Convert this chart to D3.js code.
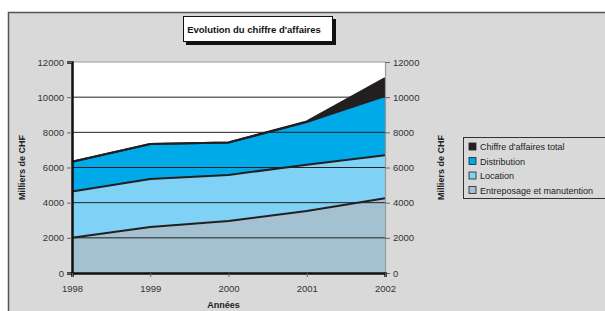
<!DOCTYPE html>
<html>
<head>
<meta charset="utf-8">
<script src="https://cdn.jsdelivr.net/npm/d3@7"></script>
<style>
body { margin: 0; background: #fff; }
text { font-family: "Liberation Sans", Arial, sans-serif; }
</style>
</head>
<body>
<script>
var years = ["1998", "1999", "2000", "2001", "2002"];
// cumulative tops (milliers de CHF)
var entreposage = [2000, 2620, 2960, 3520, 4250];
var locationTop = [4640, 5340, 5580, 6150, 6700];
var distribution = [6330, 7340, 7420, 8580, 10060];
var total = [6330, 7340, 7420, 8620, 11080];
var yTicks = [0, 2000, 4000, 6000, 8000, 10000, 12000];

var series = [
    { name: "Chiffre d'affaires total", values: total, color: "#231f20" },
    { name: "Distribution", values: distribution, color: "#00a9e8" },
    { name: "Location", values: locationTop, color: "#7fd2f5" },
    { name: "Entreposage et manutention", values: entreposage, color: "#a3c1d1" }
];

var svg = d3.select("body").append("svg")
    .attr("width", 605)
    .attr("height", 311);

// outer chart frame
svg.append("rect")
    .attr("x", 8.5).attr("y", 12.5)
    .attr("width", 620).attr("height", 320)
    .attr("fill", "#d9d9d9")
    .attr("stroke", "#555").attr("stroke-width", 1.5);

var pLeft = 72, pRight = 385, pTop = 62, pBottom = 273;

var x = d3.scalePoint().domain(years).range([pLeft, pRight]);
var y = d3.scaleLinear().domain([0, 12000]).range([pBottom, pTop]);

svg.append("rect")
    .attr("x", pLeft).attr("y", pTop)
    .attr("width", pRight - pLeft).attr("height", pBottom - pTop)
    .attr("fill", "#fff");

var area = d3.area()
    .x(function (d, i) { return x(years[i]); })
    .y0(pBottom)
    .y1(function (d) { return y(d); });

var line = d3.line()
    .x(function (d, i) { return x(years[i]); })
    .y(function (d) { return y(d); });

svg.append("g").selectAll("path")
    .data(series)
    .enter()
    .append("path")
    .attr("d", function (d) { return area(d.values); })
    .attr("fill", function (d) { return d.color; });

// gridlines on top of areas
svg.append("g").selectAll("line")
    .data(yTicks.slice(1, -1))
    .enter()
    .append("line")
    .attr("x1", pLeft).attr("x2", pRight)
    .attr("y1", function (d) { return y(d); })
    .attr("y2", function (d) { return y(d); })
    .attr("stroke", "#222").attr("stroke-width", 1);

svg.append("g").selectAll("path")
    .data(series)
    .enter()
    .append("path")
    .attr("d", function (d) { return line(d.values); })
    .attr("fill", "none")
    .attr("stroke", "#231f20")
    .attr("stroke-width", 2);

// top border (gray)
svg.append("line").attr("x1", pLeft).attr("x2", pRight).attr("y1", pTop).attr("y2", pTop)
    .attr("stroke", "#999").attr("stroke-width", 1);

var leftAxis = svg.append("g")
    .attr("transform", "translate(" + pLeft + ",0)")
    .call(d3.axisLeft(y).tickValues(yTicks).tickSize(5).tickPadding(3).tickFormat(d3.format("d")));
var rightAxis = svg.append("g")
    .attr("transform", "translate(" + pRight + ",0)")
    .call(d3.axisRight(y).tickValues(yTicks).tickSize(5).tickPadding(3).tickFormat(d3.format("d")));
var xAxis = svg.append("g")
    .attr("transform", "translate(0," + pBottom + ")")
    .call(d3.axisBottom(x).tickSize(4).tickPadding(8));

leftAxis.select(".domain").attr("stroke", "#111").attr("stroke-width", 2.5);
rightAxis.select(".domain").attr("stroke", "#999").attr("stroke-width", 1.2);
xAxis.select(".domain").attr("stroke", "#111").attr("stroke-width", 2.5);
svg.selectAll(".tick line").attr("stroke", "#666");
svg.selectAll(".tick text")
    .attr("fill", "#333")
    .style("font-size", "9.5px")
    .style("font-family", "Liberation Sans, Arial, sans-serif");

// axis titles
svg.append("text")
    .attr("transform", "translate(25," + ((pTop + pBottom) / 2) + ") rotate(-90)")
    .attr("text-anchor", "middle")
    .style("font-size", "9px").style("font-weight", "bold")
    .attr("fill", "#222")
    .text("Milliers de CHF");
svg.append("text")
    .attr("transform", "translate(444," + ((pTop + pBottom) / 2) + ") rotate(-90)")
    .attr("text-anchor", "middle")
    .style("font-size", "9px").style("font-weight", "bold")
    .attr("fill", "#222")
    .text("Milliers de CHF");
svg.append("text")
    .attr("x", (pLeft + pRight) / 2 - 5).attr("y", 308)
    .attr("text-anchor", "middle")
    .style("font-size", "9px").style("font-weight", "bold")
    .attr("fill", "#222")
    .text("Années");

// title box with shadow
svg.append("rect").attr("x", 186).attr("y", 19).attr("width", 150).attr("height", 26).attr("fill", "#111");
svg.append("rect").attr("x", 183.5).attr("y", 16.5).attr("width", 149).attr("height", 25)
    .attr("fill", "#fff").attr("stroke", "#111").attr("stroke-width", 1);
svg.append("text")
    .attr("x", 254).attr("y", 33)
    .attr("text-anchor", "middle")
    .style("font-size", "9.5px").style("font-weight", "bold")
    .attr("fill", "#111")
    .text("Evolution du chiffre d'affaires");

// legend
var legend = svg.append("g").attr("transform", "translate(463,137)");
legend.append("rect")
    .attr("x", 0.5).attr("y", 0.5).attr("width", 142).attr("height", 61)
    .attr("fill", "#d9d9d9").attr("stroke", "#333").attr("stroke-width", 1);
var items = legend.selectAll("g.item")
    .data(series)
    .enter()
    .append("g")
    .attr("transform", function (d, i) { return "translate(6," + (6 + i * 14.5) + ")"; });
items.append("rect")
    .attr("width", 7).attr("height", 7)
    .attr("fill", function (d) { return d.color; })
    .attr("stroke", "#222").attr("stroke-width", 0.8);
items.append("text")
    .attr("x", 11).attr("y", 7)
    .style("font-size", "9px")
    .attr("fill", "#222")
    .text(function (d) { return d.name; });
</script>
</body>
</html>
